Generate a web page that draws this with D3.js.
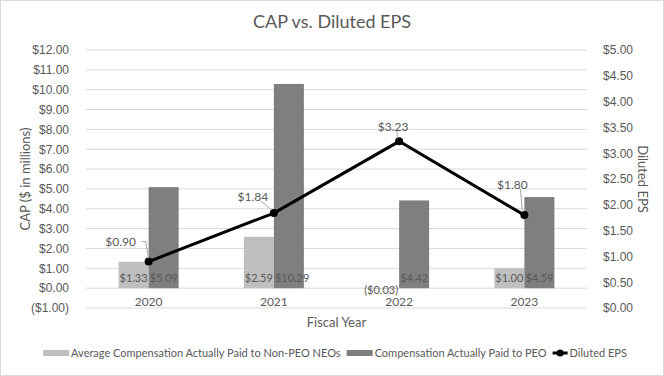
<!DOCTYPE html>
<html>
<head>
<meta charset="utf-8">
<script src="https://cdn.jsdelivr.net/npm/d3@7"></script>
<style>
  body { margin: 0; background: #fff; }
  svg { font-family: Lato, "Open Sans", sans-serif; }
</style>
</head>
<body>
<svg id="chart" width="664" height="376"></svg>
<script>
const years = ["2020", "2021", "2022", "2023"];
const neoCap = [1.33, 2.59, -0.03, 1.00];
const peoCap = [5.09, 10.29, 4.42, 4.59];
const eps = [0.90, 1.84, 3.23, 1.80];
const capTicks = d3.range(-1, 13, 1);
const epsTicks = d3.range(0, 5.01, 0.5);

const width = 664, height = 376;
const margin = { top: 50, right: 77, bottom: 68, left: 86 };
const textColor = "#595959";
const lightGray = "#bfbfbf";
const darkGray = "#7f7f7f";

const svg = d3.select("#chart");

// chart border
svg.append("rect")
  .attr("x", 0.5).attr("y", 0.5)
  .attr("width", width - 1).attr("height", height - 1)
  .attr("fill", "#fff").attr("stroke", "#d9d9d9");

const x = d3.scaleBand()
  .domain(years)
  .range([margin.left, width - margin.right]);

const yL = d3.scaleLinear()
  .domain([-1, 12])
  .range([height - margin.bottom, margin.top]);

const yR = d3.scaleLinear()
  .domain([0, 5])
  .range([height - margin.bottom, margin.top]);

const fmt = v => v < 0 ? `($${d3.format(".2f")(-v)})` : `$${d3.format(".2f")(v)}`;

// gridlines
svg.append("g")
  .selectAll("line")
  .data(capTicks)
  .enter()
  .append("line")
  .attr("x1", margin.left)
  .attr("x2", width - margin.right)
  .attr("y1", d => yL(d))
  .attr("y2", d => yL(d))
  .attr("stroke", "#d9d9d9")
  .attr("stroke-width", 1);

// left axis
const leftAxis = svg.append("g")
  .attr("transform", `translate(${margin.left - 14},0)`)
  .call(d3.axisLeft(yL).tickValues(capTicks).tickFormat(fmt).tickSize(0));
leftAxis.select(".domain").remove();
leftAxis.selectAll("text").attr("fill", textColor).style("font-size", "12px");

// right axis
const rightAxis = svg.append("g")
  .attr("transform", `translate(${width - margin.right + 13},0)`)
  .call(d3.axisRight(yR).tickValues(epsTicks).tickFormat(fmt).tickSize(0));
rightAxis.select(".domain").remove();
rightAxis.selectAll("text").attr("fill", textColor).style("font-size", "12px");

// bars
const barW = 30;
const cx = d => x(d) + x.bandwidth() / 2;

svg.append("g")
  .selectAll("rect")
  .data(years)
  .enter()
  .append("rect")
  .attr("x", d => cx(d) - barW)
  .attr("y", (d, i) => yL(Math.max(0, neoCap[i])))
  .attr("width", barW)
  .attr("height", (d, i) => Math.abs(yL(neoCap[i]) - yL(0)))
  .attr("fill", lightGray);

svg.append("g")
  .selectAll("rect")
  .data(years)
  .enter()
  .append("rect")
  .attr("x", d => cx(d))
  .attr("y", (d, i) => yL(Math.max(0, peoCap[i])))
  .attr("width", barW)
  .attr("height", (d, i) => Math.abs(yL(peoCap[i]) - yL(0)))
  .attr("fill", darkGray);

// bar labels (inside base)
svg.append("g")
  .selectAll("text")
  .data(years)
  .enter()
  .append("text")
  .attr("x", d => cx(d) - 1)
  .attr("y", (d, i) => neoCap[i] < 0 ? yL(0) + 6 : yL(0) - 6)
  .attr("text-anchor", "end")
  .attr("fill", textColor)
  .style("font-size", "11px")
  .text((d, i) => fmt(neoCap[i]));

svg.append("g")
  .selectAll("text")
  .data(years)
  .enter()
  .append("text")
  .attr("x", d => cx(d) + 1)
  .attr("y", yL(0) - 6)
  .attr("text-anchor", "start")
  .attr("fill", textColor)
  .style("font-size", "11px")
  .text((d, i) => fmt(peoCap[i]));

// x axis labels
svg.append("g")
  .selectAll("text")
  .data(years)
  .enter()
  .append("text")
  .attr("x", d => cx(d))
  .attr("y", yL(-1) - 2)
  .attr("text-anchor", "middle")
  .attr("fill", textColor)
  .style("font-size", "12px")
  .text(d => d);

// EPS line
const line = d3.line()
  .x((d, i) => cx(years[i]))
  .y(d => yR(d));

svg.append("path")
  .datum(eps)
  .attr("d", line)
  .attr("fill", "none")
  .attr("stroke", "#000")
  .attr("stroke-width", 3);

svg.append("g")
  .selectAll("circle")
  .data(eps)
  .enter()
  .append("circle")
  .attr("cx", (d, i) => cx(years[i]))
  .attr("cy", d => yR(d))
  .attr("r", 4)
  .attr("fill", "#000");

// EPS labels with leader lines
const epsLabelOffset = [[-28, -20], [-21, -16], [-6, -15], [-12, -30]];
const epsLabels = svg.append("g");
eps.forEach((v, i) => {
  const px = cx(years[i]), py = yR(v);
  const lx = px + epsLabelOffset[i][0], ly = py + epsLabelOffset[i][1];
  if (i === 0) {
    epsLabels.append("polyline")
      .attr("points", `${lx + 21},${ly} ${lx + 25},${ly} ${px},${py - 3}`)
      .attr("fill", "none").attr("stroke", "#a6a6a6").attr("stroke-width", 1);
  } else {
    epsLabels.append("line")
      .attr("x1", lx + (i === 2 ? 4 : 8)).attr("y1", ly + 4)
      .attr("x2", px - 2).attr("y2", py - 3)
      .attr("stroke", "#a6a6a6").attr("stroke-width", 1);
  }
  epsLabels.append("text")
    .attr("x", lx)
    .attr("y", ly)
    .attr("dy", "0.35em")
    .attr("text-anchor", "middle")
    .attr("fill", textColor)
    .style("font-size", "12px")
    .text(fmt(v));
});

// title
svg.append("text")
  .attr("x", width / 2)
  .attr("y", 28)
  .attr("text-anchor", "middle")
  .attr("fill", textColor)
  .style("font-size", "18px")
  .text("CAP vs. Diluted EPS");

// axis titles
svg.append("text")
  .attr("transform", `translate(30,${(yL(12) + yL(-1)) / 2}) rotate(-90)`)
  .attr("text-anchor", "middle")
  .attr("fill", textColor)
  .style("font-size", "13px")
  .text("CAP ($ in millions)");

svg.append("text")
  .attr("transform", `translate(638,${(yL(12) + yL(-1)) / 2}) rotate(90)`)
  .attr("text-anchor", "middle")
  .attr("fill", textColor)
  .style("font-size", "13px")
  .text("Diluted EPS");

svg.append("text")
  .attr("x", (margin.left + width - margin.right) / 2)
  .attr("y", 327)
  .attr("text-anchor", "middle")
  .attr("fill", textColor)
  .style("font-size", "13px")
  .text("Fiscal Year");

// legend, laid out left to right and centred
const legend = svg.append("g").attr("transform", "translate(0,353)");
const legendItems = [
  { label: "Average Compensation Actually Paid to Non-PEO NEOs", type: "bar", color: lightGray },
  { label: "Compensation Actually Paid to PEO", type: "bar", color: darkGray },
  { label: "Diluted EPS", type: "line", color: "#000" }
];
const groups = legendItems.map(it => {
  const g = legend.append("g");
  if (it.type === "bar") {
    g.append("rect")
      .attr("x", 0).attr("y", -3)
      .attr("width", 26).attr("height", 6)
      .attr("fill", it.color);
  } else {
    g.append("line")
      .attr("x1", 0).attr("x2", 15)
      .attr("y1", 0).attr("y2", 0)
      .attr("stroke", it.color).attr("stroke-width", 3);
    g.append("circle")
      .attr("cx", 7.5).attr("cy", 0).attr("r", 3.5)
      .attr("fill", it.color);
  }
  const t = g.append("text")
    .attr("x", it.type === "bar" ? 28 : 17)
    .attr("y", 0)
    .attr("dy", "0.35em")
    .attr("fill", textColor)
    .style("font-size", "11px")
    .text(it.label);
  return { g, w: (it.type === "bar" ? 28 : 17) + t.node().getComputedTextLength() };
});
const gap = 6;
const total = d3.sum(groups, d => d.w) + gap * (groups.length - 1);
let lx = 335 - total / 2;
groups.forEach(d => {
  d.g.attr("transform", `translate(${lx},0)`);
  lx += d.w + gap;
});
</script>
</body>
</html>
